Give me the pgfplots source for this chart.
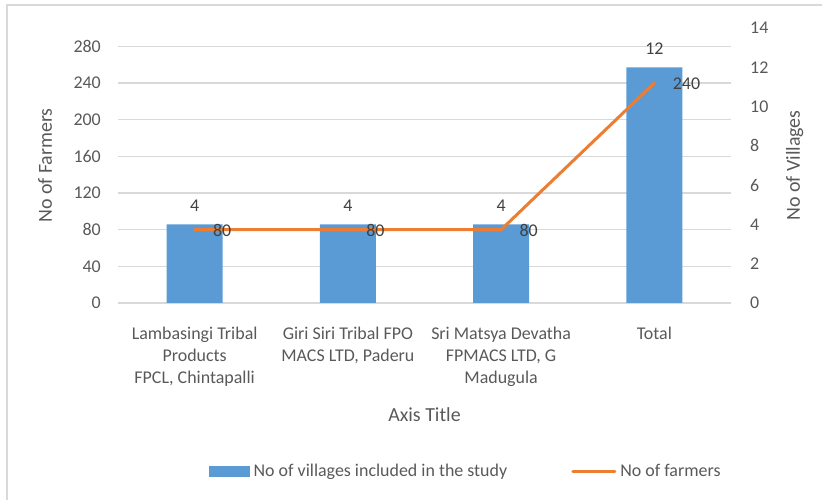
\documentclass[border=0pt]{standalone}
\usepackage{pgfplots}
\pgfplotsset{compat=1.18}
\usepackage{fontspec}
\setmainfont{Carlito}
\definecolor{barblue}{HTML}{5B9BD5}
\definecolor{farmorange}{HTML}{ED7D31}
\definecolor{txtgray}{HTML}{595959}
\definecolor{lblgray}{HTML}{404040}
\definecolor{gridgray}{HTML}{D9D9D9}
\newcommand{\tickfont}{\fontsize{18}{22}\selectfont}
\newcommand{\titlefont}{\fontsize{20}{24}\selectfont}

\pgfplotsset{
 base/.style={
  scale only axis, width=613bp, height=275bp,
  at={(118bp,197bp)}, anchor=south west,
  xmin=-0.5, xmax=3.5,
  /pgf/number format/assume math mode=true,
  major tick length=0pt,
 }
}

\begin{document}
\begin{tikzpicture}
\useasboundingbox (0,0) rectangle (822bp,500bp);
\draw[gridgray, line width=1.5bp] (7bp,0) -- (7bp,495bp) -- (822bp,495bp);

% grid, left axis, x labels
\begin{axis}[base,
 ymin=0, ymax=300, ytick={0,40,...,280},
 xtick={0,1,2,3},
 xticklabels={{Lambasingi Tribal\\Products\\FPCL, Chintapalli},{Giri Siri Tribal FPO\\MACS LTD, Paderu},{Sri Matsya Devatha\\FPMACS LTD, G\\Madugula},Total},
 axis x line*=bottom, axis y line*=left,
 x axis line style={gridgray, line width=1.3bp, -},
 y axis line style={draw=none},
 xticklabel style={font=\tickfont, text=txtgray, align=center, anchor=north, inner sep=0pt, yshift=-24bp},
 yticklabel style={font=\tickfont, text=txtgray, anchor=east, inner sep=0pt, xshift=-17bp},
 ymajorgrids, grid style={gridgray, line width=1.2bp},
 every axis x label/.style={at={(axis description cs:0.5,-0.407)}, anchor=center, inner sep=0pt, font=\titlefont, text=txtgray},
 every axis y label/.style={at={(axis description cs:-0.119,0.5)}, rotate=90, anchor=center, inner sep=0pt, font=\titlefont, text=txtgray},
 xlabel={Axis Title}, ylabel={No of Farmers},
]
\end{axis}

% bars, right axis
\begin{axis}[base,
 ymin=0, ymax=14, ytick={0,2,...,14},
 axis y line*=right, axis x line=none,
 y axis line style={draw=none},
 yticklabel style={font=\tickfont, text=txtgray, anchor=west, inner sep=0pt, xshift=19bp},
 every axis y label/.style={at={(axis description cs:1.104,0.5)}, rotate=90, anchor=center, inner sep=0pt, font=\titlefont, text=txtgray},
 ylabel={No of Villages},
 ybar, bar width=56bp,
 nodes near coords,
 every node near coord/.append style={font=\tickfont, text=lblgray, anchor=south, inner sep=0pt, yshift=12.5bp},
]
\addplot[fill=barblue, draw=none] coordinates {(0,4) (1,4) (2,4) (3,12)};
\end{axis}

% line, left scale, legend
\begin{axis}[base,
 ymin=0, ymax=300, hide axis,
 legend columns=2, legend cell align=left,
 legend style={draw=none, fill=none, inner sep=0pt,
   at={(axis description cs:0.1485,-0.611)}, anchor=west,
   font=\tickfont, text=txtgray,
   nodes={inner sep=0pt},
   /tikz/every even column/.append style={column sep=64bp},
   /tikz/every odd column/.append style={column sep=4bp}},
]
\addlegendimage{legend image code/.code={\fill[barblue] (0bp,-5bp) rectangle (40bp,5bp);}}
\addlegendentry{No of villages included in the study}
\addplot[farmorange, line width=3bp, line join=round, line cap=round,
  nodes near coords,
  every node near coord/.append style={font=\tickfont, text=lblgray, anchor=west, inner sep=0pt, xshift=17bp, yshift=-1bp},
  legend image code/.code={\draw[farmorange, line width=3bp] (0bp,0bp) -- (42bp,0bp);}]
  coordinates {(0,80) (1,80) (2,80) (3,240)};
\addlegendentry{No of farmers}
\end{axis}
\end{tikzpicture}
\end{document}
